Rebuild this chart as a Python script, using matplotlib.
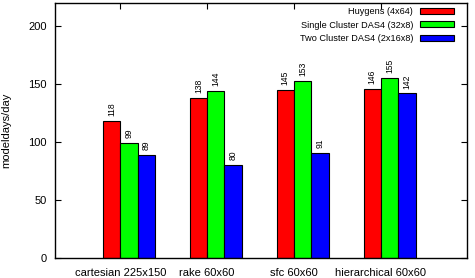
import numpy as np
import matplotlib

matplotlib.use('Agg')
import matplotlib.pyplot as plt

categories = ['cartesian 225x150', 'rake 60x60', 'sfc 60x60', 'hierarchical 60x60']
series = ['Huygens (4x64)', 'Single Cluster DAS4 (32x8)', 'Two Cluster DAS4 (2x16x8)']
huygens = [118, 138, 145, 146]
single = [99, 144, 153, 155]
two = [89, 80, 91, 142]
colors = ['#ff0000', '#00ff00', '#0000ff']

plt.rcParams['font.family'] = 'Liberation Sans'
fig = plt.figure(figsize=(4.75, 2.78), dpi=100)
ax = fig.add_axes([55 / 475, 20 / 278, 412 / 475, 255 / 278])

x = np.arange(len(categories))
w = 0.2
for i, (vals, col, name) in enumerate(zip([huygens, single, two], colors, series)):
    pos = x - w + i * w + w / 2
    ax.bar(pos, vals, w, color=col, edgecolor='black', linewidth=0.8, label=name)
    for p, v in zip(pos, vals):
        ax.annotate(str(v), (p, v), xytext=(0, 3.5), textcoords='offset points',
                    rotation=90, ha='center', va='bottom', fontsize=6.2)

ax.set_xlim(-0.75, 3.99)
ax.set_ylim(0, 220)
ax.set_yticks([0, 50, 100, 150, 200])
ax.set_xticks(x)
ax.set_xticklabels(categories)
ax.tick_params(direction='in', top=True, right=True, labelsize=8, length=4)
ax.tick_params(axis='x', pad=7)
ax.tick_params(axis='y', pad=6)
ax.set_ylabel('modeldays/day', fontsize=8)
ax.yaxis.set_label_coords(-0.105, 0.5)
for s in ax.spines.values():
    s.set_linewidth(1.0)

leg = ax.legend(loc='upper right', bbox_to_anchor=(0.968, 0.984), fontsize=6.6,
                frameon=False, markerfirst=False, handlelength=3.7,
                handleheight=0.62, labelspacing=0.5, borderaxespad=0,
                borderpad=0, handletextpad=0.75)
for t in leg.get_texts():
    t.set_ha('right')

fig.savefig('out.png', dpi=100)
